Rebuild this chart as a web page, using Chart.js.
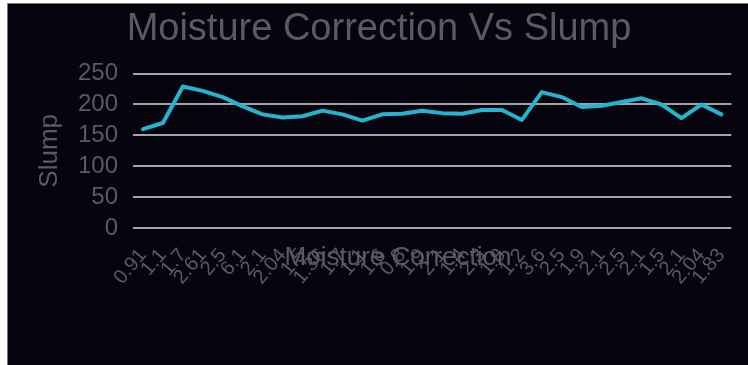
<!DOCTYPE html>
<html>
<head>
<meta charset="utf-8">
<title>Moisture Correction Vs Slump</title>
<script src="https://cdn.jsdelivr.net/npm/chart.js@4/dist/chart.umd.min.js"></script>
<style>
  html, body { margin: 0; padding: 0; background: #ffffff; }
  .frame {
    position: absolute; left: 7px; top: 3px;
    width: 741px; height: 362px;
    background: #06050f;
    border-left: 1px solid #77777c;
    border-top: 1px solid #77777c;
  }
  canvas { display: block; }
</style>
</head>
<body>
<div class="frame"><canvas id="slumpChart" width="740" height="361"></canvas></div>
<script>
// moisture correction per batch (category labels)
const moistureLabels = [
  '0.91', '1.1', '1.7', '2.61', '2.5', '6.1', '2.1', '2.04', '1.5', '1.36',
  '1.7', '1.1', '1.6', '0.8', '1.9', '2.1', '1.4', '2.3', '1.8', '1.2',
  '3.6', '2.5', '1.9', '2.1', '2.5', '2.1', '1.5', '2.1', '2.04', '1.83'
];

// measured slump for each batch
const slumpValues = [
  160, 170, 229, 222, 212, 197, 184, 179, 181, 190,
  184, 174, 184, 185, 190, 186, 185, 191, 191, 175,
  220, 212, 196, 198, 204, 210, 200, 178, 200, 184
];

const slumpTicks = [0, 50, 100, 150, 200, 250];

const textGrey = '#5a5a62';
const gridGrey = '#a4a4a8';
const lineCyan = '#25b4cd';
const fontFamily = '"Liberation Sans", Arial, sans-serif';

// x axis title sits over the rotated labels, like the spreadsheet original
const xTitlePlugin = {
  id: 'xTitle',
  afterDraw(chart) {
    const { ctx, chartArea } = chart;
    ctx.save();
    ctx.font = '26px ' + fontFamily;
    ctx.fillStyle = textGrey;
    ctx.textAlign = 'center';
    ctx.textBaseline = 'middle';
    ctx.fillText('Moisture Correction', chartArea.left + 265, chartArea.bottom + 30);
    ctx.restore();
  }
};

new Chart(document.getElementById('slumpChart').getContext('2d'), {
  type: 'line',
  data: {
    labels: moistureLabels,
    datasets: [{
      label: 'Slump',
      data: slumpValues,
      borderColor: lineCyan,
      borderWidth: 4,
      borderJoinStyle: 'round',
      borderCapStyle: 'round',
      pointRadius: 0,
      tension: 0,
      fill: false
    }]
  },
  options: {
    responsive: false,
    animation: false,
    layout: { padding: { left: 18, right: 16, top: 0, bottom: 0 } },
    scales: {
      x: {
        offset: true,
        grid: { display: false },
        border: { display: false },
        ticks: {
          autoSkip: false,
          minRotation: 50,
          maxRotation: 50,
          padding: 8,
          color: textGrey,
          font: { family: fontFamily, size: 20 }
        },
        afterFit(scale) { scale.height = 137; }
      },
      y: {
        min: 0,
        max: 250,
        afterBuildTicks(scale) {
          scale.ticks = slumpTicks.map(v => ({ value: v }));
        },
        grid: { color: gridGrey, lineWidth: 2, drawTicks: false },
        border: { display: false },
        ticks: {
          autoSkip: false,
          padding: 15,
          color: textGrey,
          font: { family: fontFamily, size: 24 }
        },
        title: {
          display: true,
          text: 'Slump',
          color: textGrey,
          font: { family: fontFamily, size: 26 },
          padding: { top: 8, bottom: 0 }
        },
        afterFit(scale) { scale.width = 107; }
      }
    },
    plugins: {
      legend: { display: false },
      tooltip: { enabled: false },
      title: {
        display: true,
        text: 'Moisture Correction Vs Slump',
        color: textGrey,
        font: { family: fontFamily, size: 38, weight: 'normal' },
        padding: { top: 3, bottom: 21 }
      }
    }
  },
  plugins: [xTitlePlugin]
});
</script>
</body>
</html>
